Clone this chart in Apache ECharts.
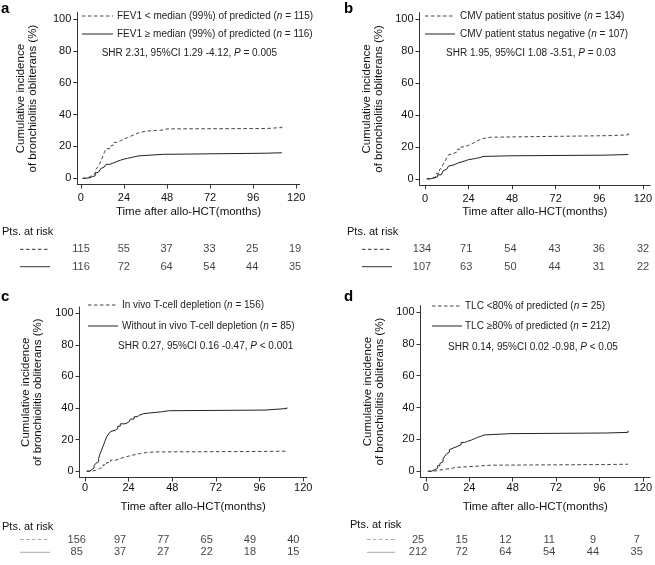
<!DOCTYPE html>
<html><head><meta charset="utf-8">
<script src="https://cdn.jsdelivr.net/npm/echarts@6/dist/echarts.min.js"></script>
<style>html,body{margin:0;padding:0;background:#fff}#c{width:655px;height:565px}</style>
</head><body><div id="c"></div>
<script>
// ---- data ----
const riskMonths = [0, 24, 48, 72, 96, 120];
const yTickValues = [0, 20, 40, 60, 80, 100];
const xTickValues = [0, 24, 48, 72, 96, 120];

// panel a : FEV1
const aDash = [[1,0],[3,0.9],[5,2],[6.5,3],[8,5],[9,6.5],[10,8],[11,10.5],[12,13],[13,16],[14,18.5],[16,20],[17,21],[18.5,22.5],[20,23.5],[22,24.5],[24,25.5],[26,26.5],[28,27.5],[30,28.5],[32,29.5],[36,30],[42,30.3],[46,31],[48,31.2],[103,31.8],[112,32.4]];
const aSolid = [[1,0],[3,0.3],[5,1],[6.5,1.5],[8,3],[9,4],[10,5],[11,6],[12,7],[13,8],[14,8.7],[16,9.5],[18,10.5],[20,11.3],[22,12],[24,12.5],[26,13],[28,13.5],[30,14],[32,14.6],[40,15],[46,15.7],[103,16.0],[112,16.3]];
const aRiskDash = [115, 55, 37, 33, 25, 19];
const aRiskSolid = [116, 72, 64, 54, 44, 35];
const aNames = ['FEV1 < median (99%) of predicted', 'FEV1 \u2265 median (99%) of predicted'];
const aN = [115, 116];
const aStat = ['SHR 2.31, 95%CI 1.29 -4.12, ', ' = 0.005'];

// panel b : CMV
const bDash = [[1,0],[3,0.8],[5,2],[6.5,3.5],[8,5.5],[9,7],[10,9],[11,11],[12,13],[13,15],[14,16],[16,17],[18,18.5],[20,20],[22,21],[24,22],[26,23.2],[28,24.4],[30,25.2],[32,26],[36,26.2],[47,27],[101,27.5],[112,28.5]];
const bSolid = [[1,0],[3,0.5],[5,1.2],[7,2.5],[9,3.5],[10,5],[11,6],[12,7],[13,8],[14,8.7],[16,9.8],[18,10.5],[20,11.2],[22,12],[24,12.3],[26,12.8],[28,13.2],[30,14],[32,14.4],[47,14.8],[100,15.2],[112,15.6]];
const bRiskDash = [134, 71, 54, 43, 36, 32];
const bRiskSolid = [107, 63, 50, 44, 31, 22];
const bNames = ['CMV patient status positive', 'CMV patient status negative'];
const bN = [134, 107];
const bStat = ['SHR 1.95, 95%CI 1.08 -3.51, ', ' = 0.03'];

// panel c : T-cell depletion
const cDash = [[1,0],[4,0.8],[6.5,1.7],[8,2.5],[10,4],[12,5.5],[14,7],[17,8],[19.4,9],[22,9.8],[25,10.6],[28,11.3],[30.6,11.8],[34,12.2],[38,12.5],[99,12.7],[111,13.3]];
const cSolid = [[1,0],[2.5,1],[3.7,2],[5,3.5],[6,5],[6.5,6],[7.5,8],[8.3,11],[9,13],[10,16],[11,19],[12,22],[13,23.5],[14,25],[15,26],[16.7,27],[18,28.5],[19.4,30],[22,31],[24,32],[25,33],[27,34.5],[28.7,35.5],[30,36.5],[32.4,37.6],[42,38.3],[46,38.7],[99,39.7],[111,40.4]];
const cRiskDash = [156, 97, 77, 65, 49, 40];
const cRiskSolid = [85, 37, 27, 22, 18, 15];
const cNames = ['In vivo T-cell depletion', 'Without in vivo T-cell depletion'];
const cN = [156, 85];
const cStat = ['SHR 0.27, 95%CI 0.16 -0.47, ', ' < 0.001'];

// panel d : TLC
const dDash = [[1,0],[4,0.5],[6.8,1],[9,1.5],[12.2,2.5],[17.7,3.1],[27,3.8],[36,4.2],[100,4.4],[111.8,4.6]];
const dSolid = [[1.3,0],[3,1],[5,2],[6.5,3.5],[7.7,4.8],[8.5,6],[9.5,7.7],[10.5,9.5],[11.5,11],[12.2,12],[13,13.5],[14,14.5],[15,15.7],[17.7,16.7],[19.5,18],[21.4,18.8],[23,19.5],[25,20.5],[27,21.3],[28.7,22],[30.5,22.8],[32.3,23.6],[47,24],[100,24.4],[111.8,25.5]];
const dRiskDash = [25, 15, 12, 11, 9, 7];
const dRiskSolid = [212, 72, 64, 54, 44, 35];
const dNames = ['TLC <80% of predicted', 'TLC \u226580% of predicted'];
const dN = [25, 212];
const dStat = ['SHR 0.14, 95%CI 0.02 -0.98, ', ' < 0.05'];

const xTitle = 'Time after allo-HCT(months)';
const yTitle = 'Cumulative incidence\nof bronchiolitis obliterans (%)';
const riskTitle = 'Pts. at risk';

// ---- layout ----
const FONT = 'Liberation Sans, Arial, Helvetica, sans-serif';
const DASH = [3.5, 2.5];
const panels = [
  {letter:'a', dash:aDash, solid:aSolid, rd:aRiskDash, rs:aRiskSolid, names:aNames, n:aN, stat:aStat,
   grid:{left:77.3, top:12.6, width:222.5, height:172}, xmin:-2, xmax:122, xlm:8, xng:21, yng:39,
   lx:[82,113], ltx:117, ly:[16,34], sx:101.7, sy:53, letX:1, letY:12,
   rgrid:{left:81, width:214, top:249.3, height:17.4}, ptsX:2, ptsY:231.7, key:[20,50], keyCol:['#333','#333']},
  {letter:'b', dash:bDash, solid:bSolid, rd:bRiskDash, rs:bRiskSolid, names:bNames, n:bN, stat:bStat,
   grid:{left:419.5, top:12.6, width:231.4, height:172.6}, xmin:-3, xmax:124, xlm:8, xng:21, yng:35,
   lx:[425,455], ltx:460, ly:[16,34], sx:446, sy:53, letX:344, letY:12,
   rgrid:{left:422, width:221, top:249.3, height:17.4}, ptsX:347, ptsY:231.7, key:[362,392], keyCol:['#333','#333']},
  {letter:'c', dash:cDash, solid:cSolid, rd:cRiskDash, rs:cRiskSolid, names:cNames, n:cN, stat:cStat,
   grid:{left:79.5, top:307, width:227.4, height:170.5}, xmin:-3, xmax:122, xlm:5, xng:23, yng:36,
   lx:[88,118], ltx:122, ly:[305,326], sx:118, sy:346, letX:1, letY:300,
   rgrid:{left:76.7, width:216.6, top:539.5, height:12.8}, ptsX:2, ptsY:526.7, key:[20,50], keyCol:['#aaa','#aaa']},
  {letter:'d', dash:dDash, solid:dSolid, rd:dRiskDash, rs:dRiskSolid, names:dNames, n:dN, stat:dStat,
   grid:{left:420.5, top:305.6, width:231.8, height:172}, xmin:-3, xmax:124, xlm:5, xng:23, yng:35,
   lx:[432,462], ltx:465, ly:[306,326], sx:448, sy:347, letX:344, letY:300,
   rgrid:{left:418, width:218.7, top:539.5, height:12.8}, ptsX:350, ptsY:525, key:[367,395], keyCol:['#aaa','#aaa']}
];

const grid = [], xAxis = [], yAxis = [], series = [], graphic = [];
const axisCol = '#333';
const rich = {t:{fontFamily:FONT, fontSize:10, fill:'#222'}, i:{fontFamily:FONT, fontSize:10, fontStyle:'italic', fill:'#222'}};

panels.forEach((p, k) => {
  const gi = grid.length;
  grid.push(Object.assign({}, p.grid));
  xAxis.push({gridIndex:gi, type:'value', min:p.xmin, max:p.xmax,
    axisLine:{show:true, onZero:false, lineStyle:{color:axisCol, width:1}},
    axisTick:{show:true, length:4, customValues:xTickValues, lineStyle:{color:axisCol}},
    axisLabel:{customValues:xTickValues, margin:p.xlm, fontSize:11, fontFamily:FONT, color:'#111'},
    splitLine:{show:false},
    name:xTitle, nameLocation:'middle', nameGap:p.xng, nameTextStyle:{fontSize:11.5, fontFamily:FONT, color:'#111'}});
  yAxis.push({gridIndex:gi, type:'value', min:-4, max:104,
    axisLine:{show:true, onZero:false, lineStyle:{color:axisCol, width:1}},
    axisTick:{show:true, length:4, customValues:yTickValues, lineStyle:{color:axisCol}},
    axisLabel:{customValues:yTickValues, margin:6, fontSize:11, fontFamily:FONT, color:'#111'},
    splitLine:{show:false},
    name:yTitle, nameLocation:'middle', nameGap:p.yng,
    nameTextStyle:{fontSize:11.5, lineHeight:11.5, fontFamily:FONT, color:'#111', align:'center'}});
  series.push({type:'line', xAxisIndex:gi, yAxisIndex:gi, data:p.dash, step:'end', showSymbol:false, silent:true,
    lineStyle:{color:'#444', width:1, type:DASH}});
  series.push({type:'line', xAxisIndex:gi, yAxisIndex:gi, data:p.solid, step:'end', showSymbol:false, silent:true,
    lineStyle:{color:'#222', width:1}});

  // risk table grid
  const ri = grid.length;
  grid.push(Object.assign({}, p.rgrid));
  xAxis.push({gridIndex:ri, type:'value', min:0, max:120, show:false});
  yAxis.push({gridIndex:ri, type:'value', min:0, max:1, show:false});
  [[p.rd, 1], [p.rs, 0]].forEach(([vals, row]) => {
    series.push({type:'scatter', xAxisIndex:ri, yAxisIndex:ri, symbolSize:1, silent:true,
      itemStyle:{color:'rgba(0,0,0,0)'},
      data: riskMonths.map((m, i) => [m, row, vals[i]]),
      label:{show:true, position:'inside', formatter: q => String(q.value[2]), fontSize:11, fontFamily:FONT, color:'#111'}});
  });

  // panel letter
  graphic.push({type:'text', left:p.letX, top:p.letY - 11, style:{text:p.letter, font:'bold 15px ' + FONT, fill:'#000'}});
  // legend
  p.names.forEach((nm, j) => {
    graphic.push({type:'line', shape:{x1:p.lx[0], y1:p.ly[j], x2:p.lx[1], y2:p.ly[j]},
      style:{stroke: j === 0 ? '#444' : '#222', lineWidth:1, lineDash: j === 0 ? DASH : null}});
    graphic.push({type:'text', x:p.ltx, y:p.ly[j], style:{text:'{t|' + nm + ' (}{i|n}{t| = ' + p.n[j] + ')}', rich:rich, verticalAlign:'middle', align:'left'}});
  });
  graphic.push({type:'text', x:p.sx, y:p.sy, style:{text:'{t|' + p.stat[0] + '}{i|P}{t|' + p.stat[1] + '}', rich:rich, verticalAlign:'middle', align:'left'}});
  // risk title + keys
  graphic.push({type:'text', x:p.ptsX, y:p.ptsY, style:{text:riskTitle, font:'11px ' + FONT, fill:'#111', verticalAlign:'middle'}});
  const ry = [p.rgrid.top, p.rgrid.top + p.rgrid.height];
  graphic.push({type:'line', shape:{x1:p.key[0], y1:ry[0], x2:p.key[1], y2:ry[0]}, style:{stroke:p.keyCol[0], lineWidth:1, lineDash:DASH}});
  graphic.push({type:'line', shape:{x1:p.key[0], y1:ry[1], x2:p.key[1], y2:ry[1]}, style:{stroke:p.keyCol[1], lineWidth:1}});
});

const chart = echarts.init(document.getElementById('c'), null, {renderer:'canvas'});
chart.setOption({animation:false, backgroundColor:'#fff', grid, xAxis, yAxis, series, graphic});
</script></body></html>
